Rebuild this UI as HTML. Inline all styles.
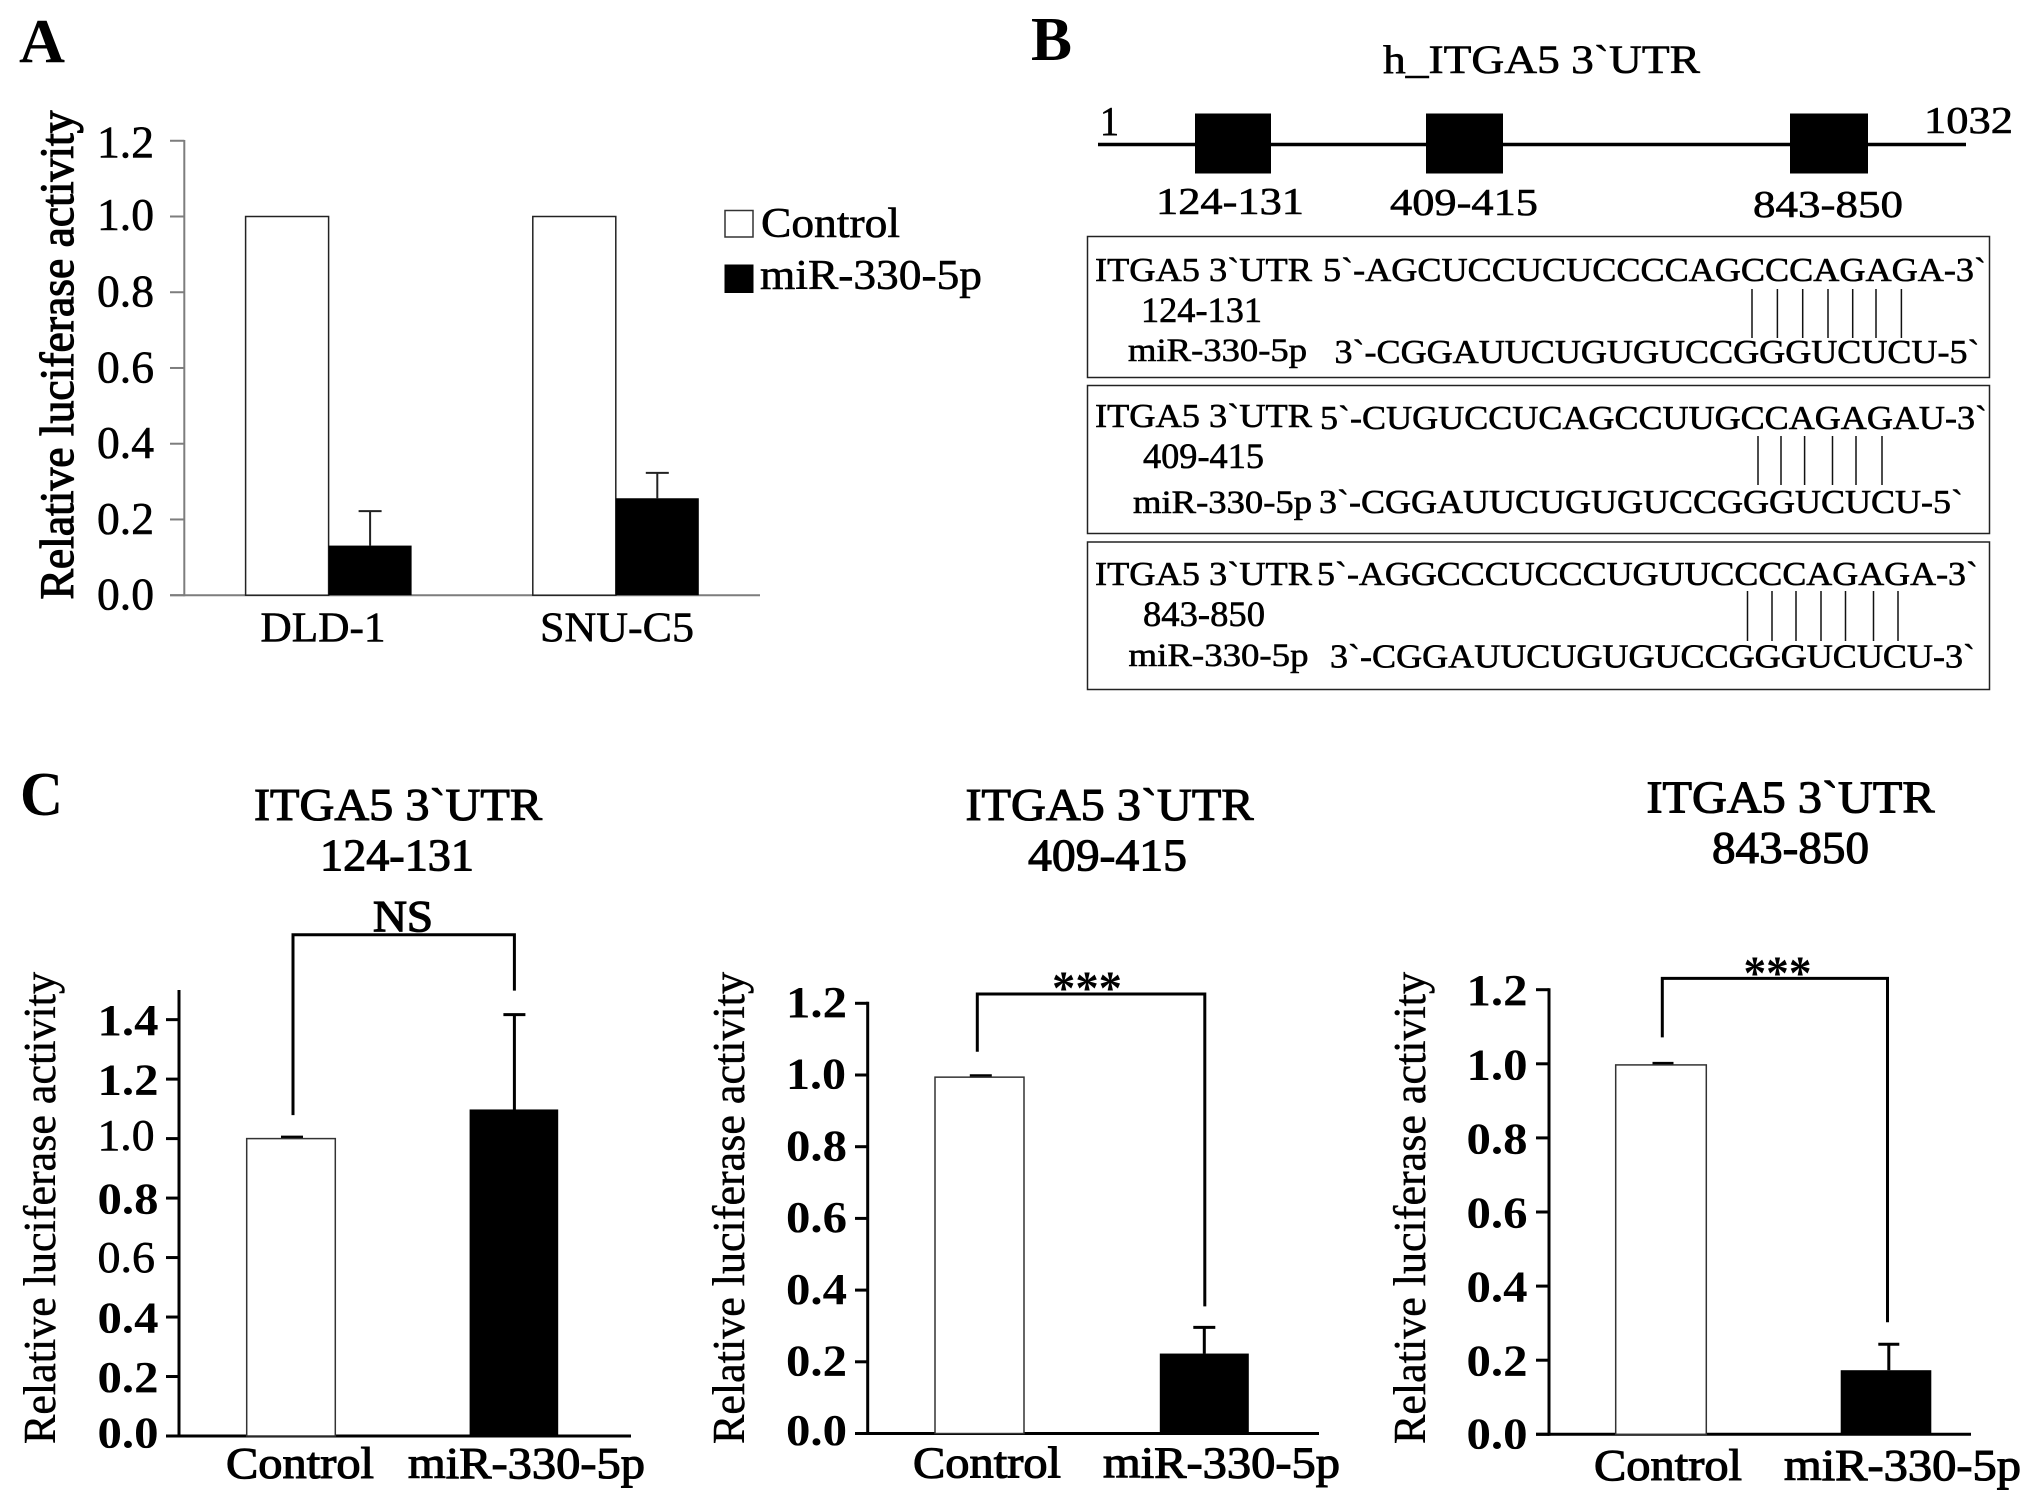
<!DOCTYPE html>
<html lang="en">
<head>
<meta charset="utf-8">
<title>Luciferase reporter assays for miR-330-5p and ITGA5 3'UTR</title>
<style>
html,body{margin:0;padding:0;background:#fff;width:2031px;height:1506px;overflow:hidden}
svg{display:block}
text{font-family:"Liberation Serif","DejaVu Serif",serif;fill:#000;stroke:#000;stroke-width:.6px}
.b{font-weight:bold;stroke-width:0}
</style>
</head>
<body>
<svg id="figure" xmlns="http://www.w3.org/2000/svg" width="2031" height="1506" viewBox="0 0 2031 1506">
  <rect x="0" y="0" width="2031" height="1506" fill="#fff"/>
  <text class="b" x="19" y="62" font-size="62" textLength="46" lengthAdjust="spacingAndGlyphs">A</text>
  <text class="b" x="1031" y="60" font-size="62" textLength="41" lengthAdjust="spacingAndGlyphs">B</text>
  <text class="b" x="20" y="815" font-size="62" textLength="43" lengthAdjust="spacingAndGlyphs">C</text>

  <g>
    <text x="1383" y="73" font-size="40" textLength="317" lengthAdjust="spacingAndGlyphs">h_ITGA5 3`UTR</text>
    <line x1="1098" y1="144.5" x2="1966" y2="144.5" stroke="#000" stroke-width="3.5"/>
    <rect x="1195" y="113.5" width="76" height="60" fill="#000"/>
    <rect x="1426" y="113.5" width="77" height="60" fill="#000"/>
    <rect x="1790" y="113.5" width="78" height="60" fill="#000"/>
    <text x="1100" y="135" font-size="41" textLength="19" lengthAdjust="spacingAndGlyphs">1</text>
    <text x="1924" y="133" font-size="38" textLength="89" lengthAdjust="spacingAndGlyphs">1032</text>
    <text x="1156" y="214" font-size="38" textLength="148" lengthAdjust="spacingAndGlyphs">124-131</text>
    <text x="1390" y="215" font-size="38" textLength="148" lengthAdjust="spacingAndGlyphs">409-415</text>
    <text x="1753" y="217" font-size="38" textLength="150" lengthAdjust="spacingAndGlyphs">843-850</text>
  </g>

  <g>
    <rect x="1087.5" y="236.5" width="902" height="141" fill="none" stroke="#222" stroke-width="1.5"/>
    <text x="1095" y="281" font-size="34" textLength="217" lengthAdjust="spacingAndGlyphs">ITGA5 3`UTR</text>
    <text x="1323" y="281" font-size="34" textLength="663" lengthAdjust="spacingAndGlyphs">5`-AGCUCCUCUCCCCAGCCCAGAGA-3`</text>
    <text x="1141" y="322" font-size="36" textLength="121" lengthAdjust="spacingAndGlyphs">124-131</text>
    <text x="1128" y="361" font-size="33" textLength="179" lengthAdjust="spacingAndGlyphs">miR-330-5p</text>
    <text x="1334.5" y="363" font-size="34" textLength="645" lengthAdjust="spacingAndGlyphs">3`-CGGAUUCUGUGUCCGGGUCUCU-5`</text>
    <path d="M1752 289V338M1777.4 289V338M1802.7 289V338M1828 289V338M1852.7 289V338M1876 289V338M1901.4 289V338" stroke="#111" stroke-width="1.5" fill="none"/>
  </g>
  <g>
    <rect x="1087.5" y="385.5" width="902" height="148" fill="none" stroke="#222" stroke-width="1.5"/>
    <text x="1095" y="427" font-size="34" textLength="217" lengthAdjust="spacingAndGlyphs">ITGA5 3`UTR</text>
    <text x="1320" y="429" font-size="34" textLength="667" lengthAdjust="spacingAndGlyphs">5`-CUGUCCUCAGCCUUGCCAGAGAU-3`</text>
    <text x="1143" y="468" font-size="36" textLength="121" lengthAdjust="spacingAndGlyphs">409-415</text>
    <text x="1133" y="513" font-size="33" textLength="179" lengthAdjust="spacingAndGlyphs">miR-330-5p</text>
    <text x="1319" y="513" font-size="34" textLength="644" lengthAdjust="spacingAndGlyphs">3`-CGGAUUCUGUGUCCGGGUCUCU-5`</text>
    <path d="M1758 436V485M1781 436V485M1804.6 436V485M1832.5 436V485M1856 436V485M1882 436V485" stroke="#111" stroke-width="1.5" fill="none"/>
  </g>
  <g>
    <rect x="1087.5" y="542" width="902" height="147.5" fill="none" stroke="#222" stroke-width="1.5"/>
    <text x="1095" y="585" font-size="34" textLength="217" lengthAdjust="spacingAndGlyphs">ITGA5 3`UTR</text>
    <text x="1317" y="585" font-size="34" textLength="661" lengthAdjust="spacingAndGlyphs">5`-AGGCCCUCCCUGUUCCCCAGAGA-3`</text>
    <text x="1143" y="626" font-size="36" textLength="122" lengthAdjust="spacingAndGlyphs">843-850</text>
    <text x="1128.5" y="666" font-size="33" textLength="180" lengthAdjust="spacingAndGlyphs">miR-330-5p</text>
    <text x="1330" y="667.5" font-size="34" textLength="645" lengthAdjust="spacingAndGlyphs">3`-CGGAUUCUGUGUCCGGGUCUCU-3`</text>
    <path d="M1747.5 591V641M1772 591V641M1796 591V641M1821 591V641M1845.5 591V641M1873.5 591V641M1898 591V641" stroke="#111" stroke-width="1.5" fill="none"/>
  </g>

  <g>
    <rect x="725" y="210.5" width="28" height="26.5" fill="#fff" stroke="#333" stroke-width="1.5"/>
    <text x="761" y="237" font-size="42" textLength="139" lengthAdjust="spacingAndGlyphs">Control</text>
    <rect x="724.5" y="264.5" width="29" height="28.5" fill="#000"/>
    <text x="760" y="289" font-size="42" textLength="222" lengthAdjust="spacingAndGlyphs">miR-330-5p</text>
  </g>
</svg>
<script>
// Panel A data
const panelACategories = ['DLD-1', 'SNU-C5'];
const panelAControlValues = [1.0, 1.0];
const panelAMirValues = [0.131, 0.256];
const panelAMirErrors = [0.091, 0.067];
const panelATicks = ['0.0', '0.2', '0.4', '0.6', '0.8', '1.0', '1.2'];

// Panel C data: site 124-131
const site124Categories = ['Control', 'miR-330-5p'];
const site124Values = [1.0, 1.098];
const site124Errors = [0.005, 0.319];
const site124Ticks = ['0.0', '0.2', '0.4', '0.6', '0.8', '1.0', '1.2', '1.4'];

// Panel C data: site 409-415
const site409Categories = ['Control', 'miR-330-5p'];
const site409Values = [0.994, 0.223];
const site409Errors = [0.004, 0.073];
const site409Ticks = ['0.0', '0.2', '0.4', '0.6', '0.8', '1.0', '1.2'];

// Panel C data: site 843-850
const site843Categories = ['Control', 'miR-330-5p'];
const site843Values = [0.997, 0.173];
const site843Errors = [0.004, 0.07];
const site843Ticks = ['0.0', '0.2', '0.4', '0.6', '0.8', '1.0', '1.2'];

const NS = 'http://www.w3.org/2000/svg';
const root = document.getElementById('figure');

function svgEl(tag, parent, name) {
  const el = document.createElementNS(NS, tag);
  
  
  parent.appendChild(el);
  return el;
}
function addLine(parent, name, x1, y1, x2, y2, color, width) {
  const el = svgEl('line', parent, name);
  el.setAttribute('x1', x1);
  el.setAttribute('y1', y1);
  el.setAttribute('x2', x2);
  el.setAttribute('y2', y2);
  el.setAttribute('stroke', color);
  el.setAttribute('stroke-width', width);
  return el;
}
function addText(parent, name, str, x, y, size, width, bold, weight) {
  const el = svgEl('text', parent, name);
  el.setAttribute('x', x);
  el.setAttribute('y', y);
  el.setAttribute('font-size', size);
  el.setAttribute('textLength', width);
  el.setAttribute('lengthAdjust', 'spacingAndGlyphs');
  if (bold) el.setAttribute('font-weight', 'bold');
  el.style.strokeWidth = weight + 'px';
  el.textContent = str;
  return el;
}
function addBar(parent, name, cx, width, yTop, yBase, filled, stroke) {
  const el = svgEl('rect', parent, name);
  el.setAttribute('x', cx - width / 2);
  el.setAttribute('y', yTop);
  el.setAttribute('width', width);
  el.setAttribute('height', yBase - yTop);
  el.setAttribute('fill', filled ? '#000' : '#fff');
  if (!filled) {
    el.setAttribute('stroke', stroke);
    el.setAttribute('stroke-width', 1.5);
  }
  return el;
}
function addVerticalTitle(parent, name, str, x, yBottom, size, length, weight) {
  const el = addText(parent, name, str, 0, 0, size, length, false, weight);
  el.setAttribute('transform', 'translate(' + x + ' ' + yBottom + ') rotate(-90)');
  return el;
}
function drawAxes(g, L, ticks) {
  const tickStep = 0.2;
  const yScale = v => L.base - v * L.unit;
  const top = yScale((ticks.length - 1) * tickStep);
  addLine(g, 'y-axis', L.axisX, L.axisTop === undefined ? top - L.axisW / 2 : L.axisTop, L.axisX, L.base + L.axisW / 2, L.axisColor, L.axisW);
  addLine(g, 'x-axis', L.tickLeft, L.base, L.axisRight, L.base, L.axisColor, L.axisW);
  ticks.forEach((label, i) => {
    const y = yScale(i * tickStep);
    addLine(g, 'y-tick', L.tickLeft, y, L.axisX, y, L.axisColor, L.axisW);
    const adj = (L.labelAdjust || {})[label] || {};
    const isRegular = (L.regularTicks || []).includes(label);
    const isBold = L.boldTicks && !isRegular;
    const drop = adj.drop === undefined ? L.labelDrop : adj.drop;
    const w = adj.w === undefined ? L.labelW : adj.w;
    addText(g, 'y-tick-label', label, L.labelX, y + drop, L.tickSize, w, isBold, isBold ? 0 : 0.6);
  });
  return yScale;
}

// Panel A: grouped chart
(function () {
  const L = { base: 595.2, unit: 378.7, axisX: 184.3, axisTop: 140, tickLeft: 170, axisRight: 760,
    axisColor: '#7d7d7d', axisW: 2, labelX: 97, labelW: 57, labelDrop: 14.5, tickSize: 45, boldTicks: false,
    labelAdjust: { '1.2': { drop: 16.5 }, '1.0': { drop: 13.5 } },
    groupStart: 328.6, groupStep: 287.2, barW: 83, capW: 23 };
  const g = svgEl('g', root, 'panel-a-chart');
  const y = drawAxes(g, L, panelATicks);
  addVerticalTitle(g, 'y-axis-title', 'Relative luciferase activity', 73, 599.5, 48, 489, 1.2);
  const labelOffsets = [-5.6, 1.2];
  const labelWidths = [125, 154];
  panelACategories.forEach((cat, i) => {
    const center = L.groupStart + i * L.groupStep;
    addBar(g, 'bar-control-' + cat.toLowerCase(), center - L.barW / 2, L.barW, y(panelAControlValues[i]), L.base, false, '#222');
    const cx = center + L.barW / 2;
    const top = y(panelAMirValues[i] + panelAMirErrors[i]);
    addLine(g, 'error-bar-' + cat.toLowerCase(), cx, top, cx, y(panelAMirValues[i]), '#222', 2);
    addLine(g, 'error-cap-' + cat.toLowerCase(), cx - L.capW / 2, top, cx + L.capW / 2, top, '#222', 2);
    addBar(g, 'bar-mir-' + cat.toLowerCase(), cx, L.barW, y(panelAMirValues[i]), L.base, true);
    const w = labelWidths[i];
    addText(g, 'x-label-' + cat.toLowerCase(), cat, center + labelOffsets[i] - w / 2, 641.5, 42, w, false, 0.6);
  });
})();

// Panel C: three two-bar charts
function drawSiteChart(name, L, categories, values, errors, ticks) {
  const g = svgEl('g', root, name);
  const y = drawAxes(g, L, ticks);
  addText(g, 'chart-title-gene', 'ITGA5 3`UTR', L.titleX, L.titleY, 46, 288, false, 1.1);
  addText(g, 'chart-title-site', L.site, L.siteX, L.titleY + 50.5, 46, L.siteW, false, 1.1);
  addVerticalTitle(g, 'y-axis-title', 'Relative luciferase activity', L.yTitleX, 1444, 45, 472, 0.5);
  const xScale = i => L.barStart + i * L.barStep;
  categories.forEach((cat, i) => {
    const cx = xScale(i);
    const top = y(values[i] + errors[i]);
    const slug = cat.toLowerCase();
    const ex = cx + L.errOffsets[i];
    addLine(g, 'error-bar-' + slug, ex, top, ex, y(values[i]), '#000', 3);
    addLine(g, 'error-cap-' + slug, ex - L.capW / 2, top, ex + L.capW / 2, top, '#000', 3);
    addBar(g, 'bar-' + slug, cx, L.barW, y(values[i]), L.base, i === 1, '#333');
    const w = i === 0 ? 148 : 237;
    addText(g, 'x-label-' + slug, cat, cx + L.labelOffsets[i] - w / 2, L.xLabelY, 44, w, false, 1.1);
  });
  const leftX = xScale(0) + L.bracketOffsets[0];
  const rightX = xScale(1) + L.bracketOffsets[1];
  const leftBottom = y(values[0] + errors[0]) - L.bracketGaps[0];
  const rightBottom = y(values[1] + errors[1]) - L.bracketGaps[1];
  const bracket = svgEl('path', g, 'significance-bracket');
  bracket.setAttribute('d', 'M' + leftX + ' ' + leftBottom + 'V' + L.bracketY + 'H' + rightX + 'V' + rightBottom);
  bracket.setAttribute('fill', 'none');
  bracket.setAttribute('stroke', '#000');
  bracket.setAttribute('stroke-width', 3);
  addText(g, 'significance-label', L.sig, L.sigX, L.sigY, L.sigSize, L.sigW, L.sigBold, L.sigBold ? 0 : 1.3);
}

drawSiteChart('panel-c-chart-124-131', {
  base: 1436, unit: 297.4, axisX: 179, axisTop: 990, tickLeft: 166, axisRight: 631, axisColor: '#000', axisW: 3,
  labelX: 97.5, labelW: 61, labelDrop: 15.5, tickSize: 44, boldTicks: true, regularTicks: ['1.0', '0.6'],
  labelAdjust: { '0.0': { drop: 11.7 }, '1.0': { w: 57, drop: 11.5 }, '0.6': { w: 57.5, drop: 14.5 } },
  barStart: 291, barStep: 222.9, barW: 88.6, capW: 22, errOffsets: [1, 0.5], labelOffsets: [9, 12.6], xLabelY: 1478,
  titleX: 254, titleY: 820, site: '124-131', siteX: 320, siteW: 154, yTitleX: 55,
  bracketY: 934.7, bracketGaps: [22, 24], bracketOffsets: [2, 0.5],
  sig: 'NS', sigX: 373, sigY: 931, sigSize: 44, sigW: 60, sigBold: false
}, site124Categories, site124Values, site124Errors, site124Ticks);

drawSiteChart('panel-c-chart-409-415', {
  base: 1433.5, unit: 358.5, axisX: 867.7, tickLeft: 855, axisRight: 1319, axisColor: '#000', axisW: 3,
  labelX: 786, labelW: 61, labelDrop: 13.7, tickSize: 44, boldTicks: true,
  labelAdjust: { '0.0': { drop: 11.3 }, '1.0': { w: 60 } },
  barStart: 979.5, barStep: 224.8, barW: 89, capW: 22, errOffsets: [1.3, 0], labelOffsets: [7.5, 17.2], xLabelY: 1477.3,
  titleX: 965.5, titleY: 820, site: '409-415', siteX: 1028, siteW: 159, yTitleX: 744,
  bracketY: 994, bracketGaps: [24, 21], bracketOffsets: [-2.2, 0.5],
  sig: '***', sigX: 1052, sigY: 1004, sigSize: 48, sigW: 70, sigBold: true
}, site409Categories, site409Values, site409Errors, site409Ticks);

drawSiteChart('panel-c-chart-843-850', {
  base: 1434.3, unit: 370.5, axisX: 1549, tickLeft: 1536, axisRight: 1971, axisColor: '#000', axisW: 3,
  labelX: 1466.5, labelW: 61, labelDrop: 15.5, tickSize: 44, boldTicks: true,
  labelAdjust: { '0.0': { drop: 14 } },
  barStart: 1661, barStep: 225, barW: 90.6, capW: 21, errOffsets: [2, 2.8], labelOffsets: [7, 16.5], xLabelY: 1480,
  titleX: 1646.5, titleY: 812.7, site: '843-850', siteX: 1712, siteW: 157, yTitleX: 1425,
  bracketY: 978.4, bracketGaps: [26, 22], bracketOffsets: [1.3, 1.5],
  sig: '***', sigX: 1743.5, sigY: 989, sigSize: 48, sigW: 68, sigBold: true
}, site843Categories, site843Values, site843Errors, site843Ticks);
</script>
</body>
</html>
